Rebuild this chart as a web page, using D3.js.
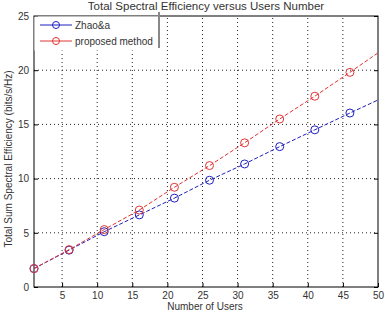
<!DOCTYPE html>
<html>
<head>
<meta charset="utf-8">
<script src="https://cdn.jsdelivr.net/npm/d3@7"></script>
<style>
  body { margin: 0; background: #fff; }
  text { font-family: "Liberation Sans", Arial, sans-serif; fill: #333; }
</style>
</head>
<body>
<div id="chart"></div>
<script>
// 資料
var users = [1, 6, 11, 16, 21, 26, 31, 36, 41, 46, 50];
var zhaoValues = [1.7, 3.4, 5.1, 6.65, 8.2, 9.85, 11.35, 12.95, 14.5, 16.05, 17.25];
var proposedValues = [1.7, 3.45, 5.3, 7.1, 9.2, 11.2, 13.3, 15.5, 17.6, 19.8, 21.6];
var xTicks = [5, 10, 15, 20, 25, 30, 35, 40, 45, 50];
var yTicks = [0, 5, 10, 15, 20, 25];
var seriesNames = ['Zhao&a', 'proposed method'];
var seriesColors = ['#1f1fbf', '#e03434'];

// 畫布
const width = 385, height = 312;
const margin = {top: 16, right: 7, bottom: 25, left: 34};
var svg = d3.select('#chart').append('svg')
  .attr('width', width)
  .attr('height', height);

var x = d3.scaleLinear().domain([1, 50]).range([margin.left, width - margin.right]);
var y = d3.scaleLinear().domain([0, 25]).range([height - margin.bottom, margin.top]);

// grid
svg.append('g').selectAll('line')
  .data(xTicks.slice(0, -1))
  .enter().append('line')
  .attr('x1', d => x(d)).attr('x2', d => x(d))
  .attr('y1', y(0)).attr('y2', y(25))
  .attr('stroke', '#222').attr('stroke-width', 1)
  .attr('stroke-dasharray', '1,3');
svg.append('g').selectAll('line')
  .data(yTicks.slice(1, -1))
  .enter().append('line')
  .attr('x1', x(1)).attr('x2', x(50))
  .attr('y1', d => y(d)).attr('y2', d => y(d))
  .attr('stroke', '#222').attr('stroke-width', 1)
  .attr('stroke-dasharray', '1,3');

// 軸
var xAxis = d3.axisBottom(x).tickValues(xTicks).tickSize(-4).tickPadding(5);
var yAxis = d3.axisLeft(y).tickValues(yTicks).tickSize(-4).tickPadding(5);
svg.append('g')
  .attr('transform', `translate(0, ${y(0)})`)
  .call(xAxis)
  .call(g => g.select('.domain').remove())
  .call(g => g.selectAll('text').style('font-size', '10px'));
svg.append('g')
  .attr('transform', `translate(${x(1)}, 0)`)
  .call(yAxis)
  .call(g => g.select('.domain').remove())
  .call(g => g.selectAll('text').style('font-size', '10px'));
// 右側刻度
svg.append('g')
  .attr('transform', `translate(${x(50)}, 0)`)
  .call(d3.axisRight(y).tickValues(yTicks).tickSize(-4).tickFormat(''))
  .call(g => g.select('.domain').remove());

// 外框
svg.append('rect')
  .attr('x', x(1)).attr('y', y(25))
  .attr('width', x(50) - x(1)).attr('height', y(0) - y(25))
  .attr('fill', 'none').attr('stroke', '#000').attr('stroke-width', 1);

// 線
var allSeries = [zhaoValues, proposedValues];
var line = d3.line().x((d, i) => x(users[i])).y(d => y(d));
allSeries.forEach(function(vals, k) {
  svg.append('path')
    .datum(vals)
    .attr('d', line)
    .attr('fill', 'none')
    .attr('stroke', seriesColors[k])
    .attr('stroke-width', 1)
    .attr('stroke-dasharray', '4,2');
  svg.append('g').selectAll('circle')
    .data(vals.slice(0, -1))
    .enter().append('circle')
    .attr('cx', (d, i) => x(users[i]))
    .attr('cy', d => y(d))
    .attr('r', 4)
    .attr('fill', 'none')
    .attr('stroke', seriesColors[k])
    .attr('stroke-width', 1);
});

// legend
var lg = svg.append('g');
lg.append('rect')
  .attr('x', x(1) + 0.5).attr('y', y(25) + 0.5)
  .attr('width', 125).attr('height', 34)
  .attr('fill', '#fff');
lg.append('line')
  .attr('x1', x(1) + 125).attr('x2', x(1) + 125)
  .attr('y1', y(25) - 4).attr('y2', y(25) + 32)
  .attr('stroke', '#888').attr('stroke-width', 2);
seriesNames.forEach(function(name, k) {
  var ly = 25 + k * 16;
  lg.append('line')
    .attr('x1', 40).attr('x2', 72)
    .attr('y1', ly).attr('y2', ly)
    .attr('stroke', seriesColors[k]).attr('stroke-width', 1);
  lg.append('circle')
    .attr('cx', 56).attr('cy', ly).attr('r', 3.5)
    .attr('fill', 'none').attr('stroke', seriesColors[k]);
  lg.append('text')
    .attr('x', 75).attr('y', ly + 3.5)
    .style('font-size', '10px')
    .text(name);
});

// 標題
svg.append('text')
  .attr('x', 206).attr('y', 10)
  .attr('text-anchor', 'middle')
  .style('font-size', '11.5px')
  .text('Total Spectral Efficiency versus Users Number');
svg.append('text')
  .attr('x', 205).attr('y', 310)
  .attr('text-anchor', 'middle')
  .style('font-size', '10px')
  .text('Number of Users');
svg.append('text')
  .attr('transform', `translate(12, 159) rotate(-90)`)
  .attr('text-anchor', 'middle')
  .style('font-size', '10px')
  .text('Total Sum Spectral Efficiency (bits/s/Hz)');
</script>
</body>
</html>
